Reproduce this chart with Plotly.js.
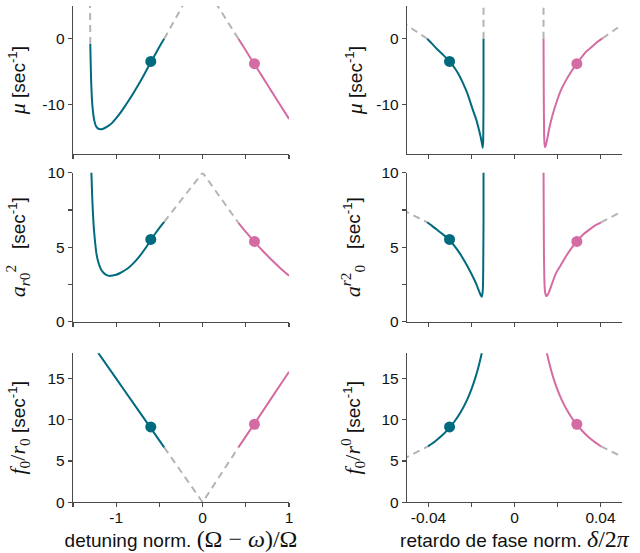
<!DOCTYPE html>
<html>
<head>
<meta charset="utf-8">
<script src="https://cdn.plot.ly/plotly-3.0.1.min.js"></script>
<style>
  html, body { margin: 0; padding: 0; background: #fff; }
  #chart { width: 640px; height: 553px; }
</style>
</head>
<body>
<div id="chart"></div>
<script>
// ---------- Detuning column: growth rate mu ----------
const muTealX = [-1.300,-1.296,-1.290,-1.282,-1.270,-1.255,-1.235,-1.210,-1.185,-1.150,-1.100,-1.050,-1.000,-0.950,-0.900,-0.850,-0.800,-0.750,-0.700,-0.650,-0.600,-0.550,-0.500,-0.445];
const muTealY = [-0.8,-3.5,-6.5,-9.0,-11.0,-12.4,-13.3,-13.7,-13.8,-13.7,-13.35,-12.85,-12.1,-11.25,-10.3,-9.3,-8.25,-7.15,-6.0,-4.8,-3.6,-2.4,-1.2,0.0];
const muTealDashX = [-0.445, -0.215];
const muTealDashY = [0.0, 5.4];
const muTealUpX = [-1.300, -1.303];
const muTealUpY = [-0.8, 5.5];
const muPinkX = [0.414, 0.5, 0.6, 0.7, 0.8, 0.9, 1.0];
const muPinkY = [0.0, -1.79, -3.88, -5.96, -8.05, -10.13, -12.2];
const muPinkDashX = [0.414, 0.155];
const muPinkDashY = [0.0, 5.4];

// ---------- Detuning column: a r0^2 ----------
const aTealX = [-1.290,-1.280,-1.272,-1.262,-1.249,-1.230,-1.210,-1.180,-1.150,-1.110,-1.075,-1.040,-1.000,-0.960,-0.900,-0.850,-0.800,-0.750,-0.700,-0.650,-0.600,-0.550,-0.500,-0.445];
const aTealY = [10.5,8.7,7.6,6.5,5.6,4.6,4.05,3.55,3.3,3.12,3.07,3.1,3.15,3.25,3.45,3.66,3.93,4.25,4.62,5.03,5.48,5.9,6.3,6.7];
const aDashX = [-0.445, 0.0, 0.414];
const aDashY = [6.7, 10.0, 6.64];
const aPinkX = [0.414, 0.5, 0.6, 0.7, 0.8, 0.9, 1.0];
const aPinkY = [6.64, 6.03, 5.36, 4.73, 4.14, 3.59, 3.08];

// ---------- Detuning column: f0/r0 ----------
const fTealX = [-1.25, -1.0, -0.8, -0.6, -0.445];
const fTealY = [18.67, 14.94, 11.95, 8.96, 6.64];
const fDashX = [-0.445, 0.0, 0.414];
const fDashY = [6.64, 0.0, 6.63];
const fPinkX = [0.414, 0.6, 0.8, 1.0];
const fPinkY = [6.63, 9.5, 12.65, 15.78];

// ---------- Phase-lag column: mu ----------
const pmuTealX = [-0.0406,-0.0385,-0.0363,-0.0335,-0.0302,-0.0275,-0.0255,-0.0239,-0.0222,-0.0209,-0.0193,-0.0177,-0.0165,-0.0157,-0.0151,-0.0148,-0.01455,-0.0144,-0.0144];
const pmuTealY = [0.0,-0.7,-1.47,-2.35,-3.42,-4.6,-5.7,-6.8,-8.1,-9.3,-10.9,-12.4,-13.9,-15.0,-16.0,-16.6,-15.5,-8.0,0.0];
const pmuTealDashX = [-0.0406, -0.0455, -0.052];
const pmuTealDashY = [0.0, 1.05, 2.5];
const pmuTealUpX = [-0.0144, -0.0144];
const pmuTealUpY = [0.0, 5.5];
const pmuPinkX = [0.0135,0.0136,0.0138,0.0141,0.0145,0.0152,0.0162,0.0177,0.0193,0.0215,0.0240,0.0265,0.0289,0.0310,0.0332,0.0360,0.0386,0.0409];
const pmuPinkY = [0.0,-8.0,-15.0,-16.5,-16.3,-15.3,-13.6,-11.6,-9.9,-7.9,-6.3,-4.95,-3.78,-2.9,-1.99,-1.2,-0.46,0.06];
const pmuPinkDashX = [0.0409, 0.0487, 0.052];
const pmuPinkDashY = [0.06, 1.84, 2.6];
const pmuPinkUpX = [0.0135, 0.0135];
const pmuPinkUpY = [0.0, 5.5];

// ---------- Phase-lag column: a r0^2 ----------
const paTealX = [-0.0406,-0.0385,-0.0363,-0.0335,-0.0302,-0.0275,-0.0255,-0.0232,-0.0209,-0.0193,-0.0177,-0.0165,-0.0157,-0.0152,-0.0148,-0.0146,-0.0145,-0.0144,-0.0144];
const paTealY = [6.67,6.45,6.2,5.88,5.5,5.0,4.6,4.05,3.45,3.0,2.5,2.05,1.78,1.68,2.0,2.8,4.5,7.0,10.5];
const paTealDashX = [-0.052, -0.0502, -0.0406];
const paTealDashY = [7.5, 7.37, 6.67];
const paPinkX = [0.0135,0.0136,0.0137,0.0139,0.0142,0.0147,0.0155,0.0162,0.0177,0.0193,0.0215,0.0239,0.0265,0.0289,0.0318,0.0348,0.0375,0.0402];
const paPinkY = [10.5,7.0,4.5,2.8,2.0,1.72,1.82,2.05,2.65,3.26,3.79,4.38,4.94,5.39,5.83,6.18,6.46,6.67];
const paPinkDashX = [0.0402, 0.0487, 0.052];
const paPinkDashY = [6.67, 7.3, 7.55];

// ---------- Phase-lag column: f0/r0 ----------
const pfTealX = [-0.0402,-0.0370,-0.0340,-0.0310,-0.0280,-0.0250,-0.0220,-0.0200,-0.0180,-0.0165,-0.0155,-0.0148];
const pfTealY = [6.76,7.35,8.00,8.78,9.73,10.91,12.41,13.67,15.21,16.61,17.70,18.55];
const pfTealDashX = [-0.052, -0.0499, -0.0402];
const pfTealDashY = [5.19, 5.47, 6.76];
const pfPinkX = [0.0145,0.0160,0.0180,0.0200,0.0220,0.0250,0.0280,0.0310,0.0340,0.0370,0.0402];
const pfPinkY = [18.73,16.97,15.09,13.58,12.35,10.87,9.70,8.76,7.99,7.34,6.76];
const pfPinkDashX = [0.0402, 0.0494, 0.052];
const pfPinkDashY = [6.76, 5.55, 5.25];

// ---------- Operating points (same states in both columns) ----------
const ptDetuning = [-0.6, 0.6];
const ptPhase = [-0.0302, 0.029];
const ptMu = [-3.45, -3.8];
const ptA = [5.52, 5.39];
const ptF = [9.11, 9.43];

// ---------- Axis ticks (labelled + unlabelled) ----------
const detTicks = [-1, 0, 1];
const detTickText = ['-1', '0', '1'];
const detMinor = [-1.5, -0.5, 0.5];
const phTicks = [-0.04, 0, 0.04];
const phTickText = ['-0.04', '0', '0.04'];
const phMinor = [-0.02, 0.02];
const muTicks = [-10, 0];
const muTickText = ['-10', '0'];
const aTicks = [0, 5, 10];
const aTickText = ['0', '5', '10'];
const aMinor = [2.5, 7.5];
const fTicks = [0, 5, 10, 15];
const fTickText = ['0', '5', '10', '15'];

const TEAL = '#006a7e';
const PINK = '#d46ca3';
const GRAY = '#b4b4b4';
const SERIF = 'Liberation Serif';
const SANS = 'Liberation Sans, Arial, sans-serif';
const LINE = '#4a4a4a';

function m(s, size) { return `<span style="font-family:${SERIF};font-size:${size || 22}px">${s}</span>`; }

const traces = [];
function dashed(x, y, xa, ya) {
  traces.push({x, y, xaxis: xa, yaxis: ya, mode: 'lines', hoverinfo: 'skip',
    line: {color: GRAY, width: 2, dash: '7px,5px'}, showlegend: false});
}
function solid(x, y, color, xa, ya) {
  traces.push({x, y, xaxis: xa, yaxis: ya, mode: 'lines', hoverinfo: 'skip',
    line: {color, width: 2, shape: 'spline', smoothing: 0.5}, showlegend: false});
}
function points(x, y, xa, ya) {
  traces.push({x, y, xaxis: xa, yaxis: ya, mode: 'markers', hoverinfo: 'skip',
    marker: {color: [TEAL, PINK], size: 11}, showlegend: false});
}

// row 1 left
dashed(muTealUpX, muTealUpY, 'x', 'y');
dashed(muTealDashX, muTealDashY, 'x', 'y');
dashed(muPinkDashX, muPinkDashY, 'x', 'y');
solid(muTealX, muTealY, TEAL, 'x', 'y');
solid(muPinkX, muPinkY, PINK, 'x', 'y');
points(ptDetuning, ptMu, 'x', 'y');
// row 1 right
dashed(pmuTealDashX, pmuTealDashY, 'x2', 'y2');
dashed(pmuTealUpX, pmuTealUpY, 'x2', 'y2');
dashed(pmuPinkDashX, pmuPinkDashY, 'x2', 'y2');
dashed(pmuPinkUpX, pmuPinkUpY, 'x2', 'y2');
solid(pmuTealX, pmuTealY, TEAL, 'x2', 'y2');
solid(pmuPinkX, pmuPinkY, PINK, 'x2', 'y2');
points(ptPhase, ptMu, 'x2', 'y2');
// row 2 left
dashed(aDashX, aDashY, 'x3', 'y3');
solid(aTealX, aTealY, TEAL, 'x3', 'y3');
solid(aPinkX, aPinkY, PINK, 'x3', 'y3');
points(ptDetuning, ptA, 'x3', 'y3');
// row 2 right
dashed(paTealDashX, paTealDashY, 'x4', 'y4');
dashed(paPinkDashX, paPinkDashY, 'x4', 'y4');
solid(paTealX, paTealY, TEAL, 'x4', 'y4');
solid(paPinkX, paPinkY, PINK, 'x4', 'y4');
points(ptPhase, ptA, 'x4', 'y4');
// row 3 left
dashed(fDashX, fDashY, 'x5', 'y5');
solid(fTealX, fTealY, TEAL, 'x5', 'y5');
solid(fPinkX, fPinkY, PINK, 'x5', 'y5');
points(ptDetuning, ptF, 'x5', 'y5');
// row 3 right
dashed(pfTealDashX, pfTealDashY, 'x6', 'y6');
dashed(pfPinkDashX, pfPinkDashY, 'x6', 'y6');
solid(pfTealX, pfTealY, TEAL, 'x6', 'y6');
solid(pfPinkX, pfPinkY, PINK, 'x6', 'y6');
points(ptPhase, ptF, 'x6', 'y6');

const AX = {
  showline: true, linecolor: LINE, linewidth: 1.2,
  ticks: 'outside', ticklen: 4, tickwidth: 1.2, tickcolor: LINE,
  showgrid: false, zeroline: false, fixedrange: true,
  tickfont: {family: SANS, size: 15.5, color: '#111'},
  tickmode: 'array'
};
const TITLEFONT = {family: SANS, size: 19, color: '#111'};

const xL = [0.1141, 0.4516], xR = [0.6359, 0.9719];
const r1 = [0.7210, 0.9892], r2 = [0.4183, 0.6877], r3 = [0.0917, 0.3611];

function minorTicks(vals) {
  return {tickmode: 'array', tickvals: vals, ticks: 'outside', ticklen: 4, tickwidth: 1.2, tickcolor: LINE, showgrid: false};
}
function xax(domain, anchor, vals, text, minor, range, title) {
  const o = Object.assign({}, AX, {domain, anchor, tickvals: vals, ticktext: text, range,
    minor: minorTicks(minor), ticklabelstandoff: -3});
  if (title) o.title = {text: title, font: TITLEFONT, standoff: 2};
  else o.showticklabels = false;
  return o;
}
function yax(domain, anchor, vals, text, minor, range, title, standoff) {
  const o = Object.assign({}, AX, {domain, anchor, tickvals: vals, ticktext: text, range,
    title: {text: title, font: TITLEFONT, standoff}});
  if (minor) o.minor = minorTicks(minor);
  return o;
}

const secUnit = '[sec<sup>-1</sup>]';
const layout = {
  width: 640, height: 553,
  margin: {l: 0, r: 0, t: 0, b: 0},
  paper_bgcolor: '#fff', plot_bgcolor: '#fff',
  showlegend: false,
  xaxis:  xax(xL, 'y',  detTicks, detTickText, detMinor, [-1.5, 1]),
  yaxis:  yax(r1, 'x',  muTicks, muTickText, null, [-17.6, 5], m('<i>μ</i>') + ' ' + secUnit, 11),
  xaxis2: xax(xR, 'y2', phTicks, phTickText, phMinor, [-0.05, 0.05]),
  yaxis2: yax(r1, 'x2', muTicks, muTickText, null, [-17.6, 5], m('<i>μ</i>') + ' ' + secUnit, 8),
  xaxis3: xax(xL, 'y3', detTicks, detTickText, detMinor, [-1.5, 1]),
  yaxis3: yax(r2, 'x3', aTicks, aTickText, aMinor, [0, 10], m('<i>a</i><sub><i>r</i>0</sub><sup>2</sup>') + '   ' + secUnit, 16),
  xaxis4: xax(xR, 'y4', phTicks, phTickText, phMinor, [-0.05, 0.05]),
  yaxis4: yax(r2, 'x4', aTicks, aTickText, aMinor, [0, 10], m('<i>a</i><sup><i>r</i>2</sup><sub>0</sub>') + '   ' + secUnit, 15),
  xaxis5: xax(xL, 'y5', detTicks, detTickText, detMinor, [-1.5, 1], 'detuning norm. ' + m('(Ω − <i>ω</i>)/Ω', 24)),
  yaxis5: yax(r3, 'x5', fTicks, fTickText, null, [0, 18], m('<i>f</i><sub>0</sub>/<i>r</i><sub>0</sub>') + ' ' + secUnit, 16),
  xaxis6: xax(xR, 'y6', phTicks, phTickText, phMinor, [-0.05, 0.05], 'retardo de fase norm. ' + m('<i>δ</i>/2<i>π</i>', 24)),
  yaxis6: yax(r3, 'x6', fTicks, fTickText, null, [0, 18], m('<i>f</i><sub>0</sub>/<i>r</i><sup>0</sup>') + ' ' + secUnit, 15)
};

Plotly.newPlot('chart', traces, layout, {staticPlot: true, displayModeBar: false});
</script>
</body>
</html>
